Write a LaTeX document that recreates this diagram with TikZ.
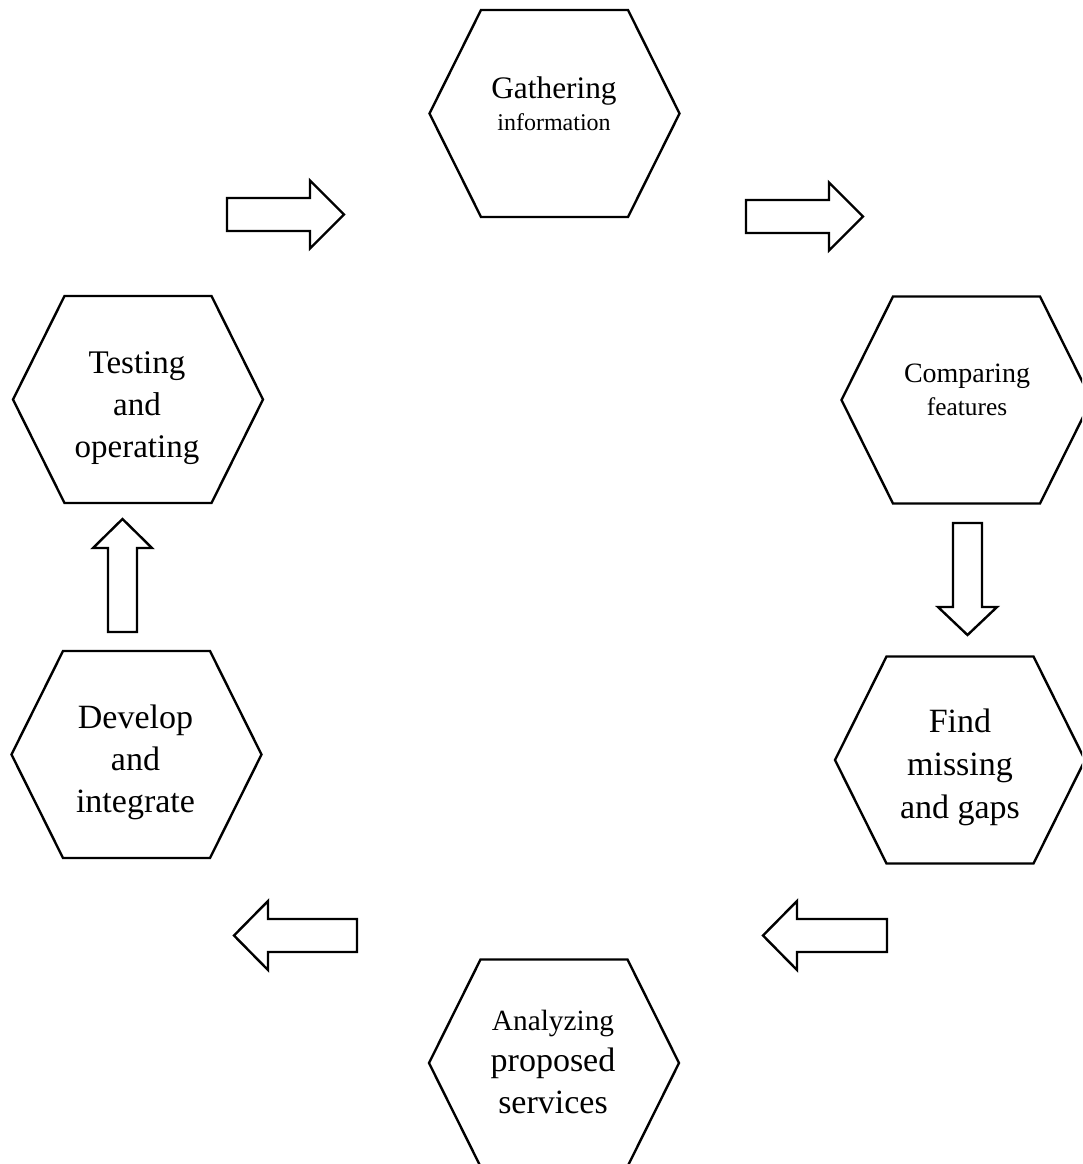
\documentclass[tikz,border=0pt]{standalone}
\usepackage{fontspec}
\setmainfont{Liberation Serif}

\begin{document}
\begin{tikzpicture}[x=0.75pt,y=0.75pt,yscale=-1,xscale=1,
	hexa/.style={draw=black, line width=1.8pt, line join=miter},
	blockarrow/.style={draw=black, line width=1.8pt, line join=miter, fill=white},
	lbl/.style={align=center, anchor=base, inner sep=0pt, text=black}]
		\useasboundingbox (0,0) rectangle (1082,1164);
		\clip (0,0) rectangle (1082,1164);
		
		%hexagons
		\draw [hexa] (429.5,113.5) -- (481,10) -- (628,10) -- (679.5,113.5) -- (628,217) -- (481,217) -- cycle ;
		\draw [hexa] (841.5,400) -- (893,296.5) -- (1040,296.5) -- (1091.5,400) -- (1040,503.5) -- (893,503.5) -- cycle ;
		\draw [hexa] (835,760) -- (886.5,656.5) -- (1033.5,656.5) -- (1085,760) -- (1033.5,863.5) -- (886.5,863.5) -- cycle ;
		\draw [hexa] (429,1063) -- (480.5,959.5) -- (627.5,959.5) -- (679,1063) -- (627.5,1166.5) -- (480.5,1166.5) -- cycle ;
		\draw [hexa] (11.5,754.5) -- (63,651) -- (210,651) -- (261.5,754.5) -- (210,858) -- (63,858) -- cycle ;
		\draw [hexa] (13,399.5) -- (64.5,296) -- (211.5,296) -- (263,399.5) -- (211.5,503) -- (64.5,503) -- cycle ;
		
		%arrows
		\draw [blockarrow] (227,198) -- (310,198) -- (310,180.5) -- (344,214.5) -- (310,248.5) -- (310,231) -- (227,231) -- cycle ;
		\draw [blockarrow] (746,200) -- (829,200) -- (829,182.5) -- (863,216.5) -- (829,250.5) -- (829,233) -- (746,233) -- cycle ;
		\draw [blockarrow] (953,523) -- (982,523) -- (982,607) -- (997,607) -- (967.5,635) -- (938,607) -- (953,607) -- cycle ;
		\draw [blockarrow] (887,919) -- (797,919) -- (797,901) -- (763,935.5) -- (797,970) -- (797,952) -- (887,952) -- cycle ;
		\draw [blockarrow] (357,919) -- (268,919) -- (268,901) -- (234,935.5) -- (268,970) -- (268,952) -- (357,952) -- cycle ;
		\draw [blockarrow] (108,632) -- (108,548) -- (93,548) -- (122.5,519) -- (152,548) -- (137,548) -- (137,632) -- cycle ;
		
		\node [lbl, font=\fontsize{23.5}{24}\selectfont] (gathering) at (554,130) {Gathering\\{\fontsize{18}{24}\selectfont information}};
		\node [lbl, font=\fontsize{21}{24.75}\selectfont] (comparing) at (967,415) {Comparing\\{\fontsize{19}{24.75}\selectfont features}};
		\node [lbl, font=\fontsize{25.5}{32}\selectfont] (findgaps) at (960,818) {Find\\missing\\and gaps};
		\node [lbl, font=\fontsize{25.5}{31}\selectfont] (analyzing) at (553,1113) {{\fontsize{22}{31}\selectfont Analyzing}\\proposed\\services};
		\node [lbl, font=\fontsize{25.5}{31.5}\selectfont] (develop) at (135.5,812) {Develop\\and\\integrate};
		\node [lbl, font=\fontsize{24.75}{31.5}\selectfont] (testing) at (137,457) {Testing\\and\\operating};
		
\end{tikzpicture}
\end{document}
